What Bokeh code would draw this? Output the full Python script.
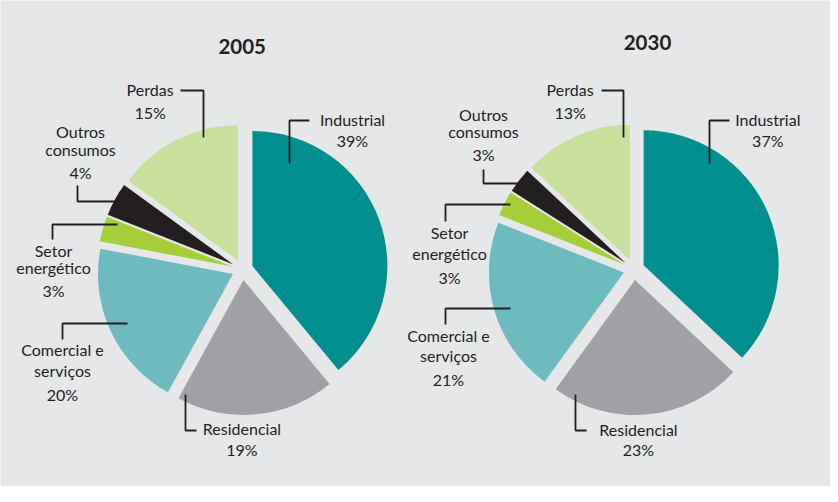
import numpy as np
from bokeh.plotting import figure
from bokeh.models import ColumnDataSource, Range1d
from bokeh.core.properties import value
from bokeh.embed import file_html
from bokeh.resources import INLINE

# ---------------- data ----------------
categories = ["Industrial", "Residencial", "Comercial e serviços",
              "Setor energético", "Outros consumos", "Perdas"]
label_lines = [["Industrial"], ["Residencial"], ["Comercial e", "serviços"],
               ["Setor", "energético"], ["Outros", "consumos"], ["Perdas"]]
years = ["2005", "2030"]
shares_2005 = [39, 19, 20, 3, 4, 15]
shares_2030 = [37, 23, 21, 3, 3, 13]
colors = ["#008e8e", "#a0a1a5", "#6ebbbf", "#a6ce39", "#231f20", "#c8e09b"]

# ---------------- layout (page pixels) ----------------
W, H = 830, 486
BG = "#e6e7e8"
TXT = "#231f20"
FONT = "Lato"
TEXT_DY = -8  # vertical correction for text placement

pie_centers = {"2005": (250, 277), "2030": (641.5, 277)}
RADIUS = 135
EXPLODE = 10.5
title_pos = {"2005": (249.7, 61.7), "2030": (655, 58.3)}

# label x-centre and baselines (names..., percentage)
label_pos = {
    "2005": [(360, [135, 156]), (249.5, [444, 465]), (70, [365, 386, 410]),
             (61, [265.5, 283, 306]), (88, [146.7, 165, 188]), (157.6, [105, 127.5])],
    "2030": [(775.3, [135, 155.7]), (646, [445, 465]), (456, [350.7, 370.7, 395]),
             (457, [248, 269.3, 292.7]), (491, [130, 147.3, 170]), (577.6, [105, 127.7])],
}
leaders = {
    "2005": [[(317, 128), (297, 128), (297, 171)], [(193, 402), (193, 438), (204, 438)],
             [(70, 347), (70, 331), (135, 331)], [(60, 247), (60, 232), (125, 232)],
             [(85, 193), (85, 209), (123, 209)], [(188, 98), (211, 98), (211, 145)]],
    "2030": [[(737, 128), (717, 128), (717, 171)], [(583, 402), (583, 438), (594, 438)],
             [(453, 332), (453, 316), (518, 316)], [(453, 229), (453, 212), (518, 212)],
             [(491, 177), (491, 191), (526, 191)], [(609, 98), (631, 98), (631, 145)]],
}

p = figure(width=W, height=H, output_backend="svg", toolbar_location=None,
           x_range=Range1d(8, 8 + W), y_range=Range1d(-(8 + H), -8),
           min_border=0)
p.axis.visible = False
p.grid.visible = False
p.outline_line_color = None
p.background_fill_color = BG
p.border_fill_color = BG

for year, shares in zip(years, [shares_2005, shares_2030]):
    cx, cy = pie_centers[year]
    vals = np.array(shares, dtype=float)
    frac = vals / vals.sum()
    cum_after = np.cumsum(frac)
    cum_before = cum_after - frac
    start = np.pi / 2 - cum_after * 2 * np.pi
    end = np.pi / 2 - cum_before * 2 * np.pi
    mid = (start + end) / 2
    src = ColumnDataSource(dict(
        x=cx + EXPLODE * np.cos(mid), y=-cy + EXPLODE * np.sin(mid),
        start=start, end=end, color=colors, cat=categories))
    p.wedge(x="x", y="y", radius=RADIUS, start_angle="start", end_angle="end",
            direction="anticlock", fill_color="color", line_color=None, source=src)

    # title
    tx, ty = title_pos[year]
    p.text(x=[tx], y=[-(ty + TEXT_DY)], text=[year], text_align="center",
           text_baseline="alphabetic", text_font=value(FONT), text_font_style="bold",
           text_font_size="20.5px", text_color=TXT)

    # labels
    xs, ys, texts = [], [], []
    for lines, v, (lx, bases) in zip(label_lines, shares, label_pos[year]):
        for t, b in zip(lines + [f"{v}%"], bases):
            xs.append(lx)
            ys.append(-(b + TEXT_DY))
            texts.append(t)
    p.text(x=xs, y=ys, text=texts, text_align="center", text_baseline="alphabetic",
           text_font=value(FONT), text_font_size="16px", text_color=TXT)

    # leader lines
    lx = [[pt[0] for pt in seg] for seg in leaders[year]]
    ly = [[-pt[1] for pt in seg] for seg in leaders[year]]
    p.multi_line(xs=lx, ys=ly, line_color=TXT, line_width=1.8)

open("out.html", "w").write(file_html(p, INLINE))
